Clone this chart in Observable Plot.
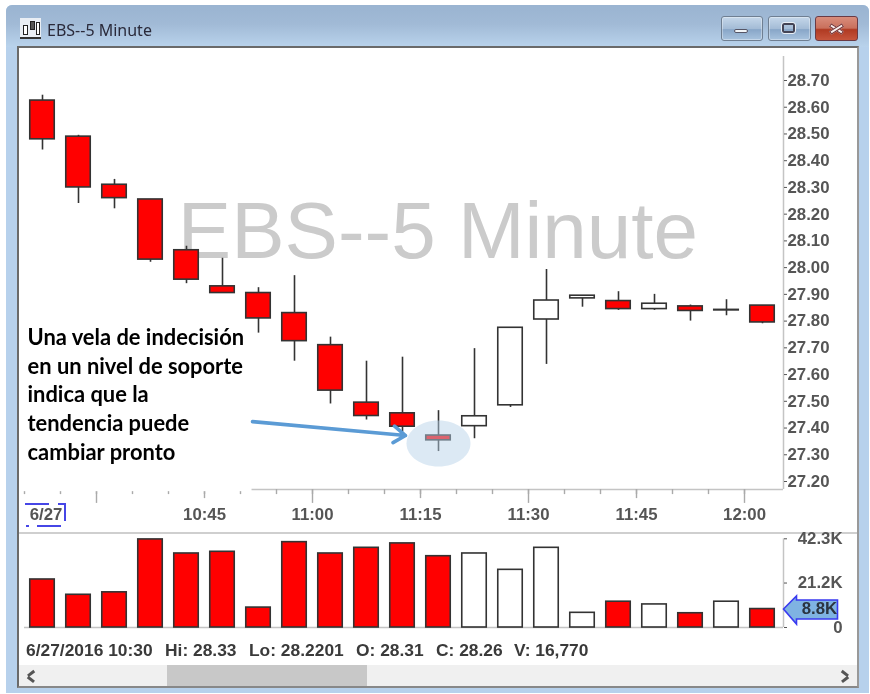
<!DOCTYPE html>
<html><head><meta charset="utf-8">
<script src="https://cdn.jsdelivr.net/npm/d3@7"></script>
<script src="https://cdn.jsdelivr.net/npm/@observablehq/plot@0.6"></script>
<style>
html,body{margin:0;padding:0;background:#fff;}
#page{position:relative;width:870px;height:694px;overflow:hidden;font-family:"Liberation Sans",Arial,sans-serif;filter:blur(.35px);}
#page>div{position:absolute;box-sizing:border-box;}
#page svg{position:absolute;left:0;background:transparent;overflow:visible;}
</style></head><body>
<div id="page"></div>
<script>
// ---- Data ----
const startTimes = ["10:20","10:25","10:30","10:35","10:40","10:45","10:50","10:55","11:00","11:05","11:10","11:15","11:20","11:25","11:30","11:35","11:40","11:45","11:50","11:55","12:00"];
const opens  = [28.625,28.49,28.31,28.255,28.065,27.93,27.905,27.83,27.71,27.495,27.455,27.372,27.407,27.485,27.806,27.885,27.875,27.845,27.855,27.84,27.858];
const highs  = [28.645,28.495,28.33,28.255,28.08,28.035,27.925,27.97,27.74,27.65,27.665,27.465,27.697,27.775,27.993,27.895,27.91,27.90,27.86,27.88,27.858];
const lows   = [28.44,28.24,28.2201,28.02,27.94,27.905,27.755,27.65,27.49,27.43,27.385,27.312,27.36,27.477,27.638,27.852,27.84,27.84,27.80,27.82,27.79];
const closes = [28.48,28.30,28.26,28.03,27.955,27.905,27.81,27.725,27.54,27.445,27.405,27.354,27.444,27.775,27.877,27.895,27.845,27.865,27.838,27.842,27.795];
const volumes = [22900,15600,16770,42000,35300,36100,9500,40700,35300,38000,40100,34000,35300,27500,38000,7000,12300,11000,6800,12300,8800];
const priceTicks = [28.7,28.6,28.5,28.4,28.3,28.2,28.1,28.0,27.9,27.8,27.7,27.6,27.5,27.4,27.3,27.2];
const volumeTicks = [0,21200,42300];
const volumeTickLabels = ["0","21.2K","42.3K"];
const timeLabels = ["10:45","11:00","11:15","11:30","11:45","12:00"];
const watermark = "EBS--5 Minute";
const windowTitle = "EBS--5 Minute";
const dateLabel = "6/27";
const note = "Una vela de indecisión\nen un nivel de soporte\nindica que la\ntendencia puede\ncambiar pronto";
const status = [["6/27/2016 10:30",26],["Hi: 28.33",165],["Lo: 28.2201",249],["O: 28.31",356],["C: 28.26",436],["V: 16,770",514]];

const t = s => { const [h,m] = s.split(":").map(Number); return new Date(Date.UTC(2016,5,27,h,m)); };
const shift = (d,min) => new Date(+d + min*60000);
const candles = startTimes.map((s,i)=>({t:t(s),open:opens[i],high:highs[i],low:lows[i],close:closes[i],volume:volumes[i]}));
const mid = d => shift(d.t,2.5), left = d => shift(d.t,0.8), right = d => shift(d.t,4.2);
const color = d => d.close >= d.open ? "#fff" : "#f00";
const xDomain = [t("10:20"), shift(t("12:05"),5/12)];
const xRange = [24,783];
const inkDark = "#333", axisInk = "#555", axisLine = "#c4c4c4";
const base = {fontFamily:'"Liberation Sans",Arial,sans-serif',fontWeight:"bold",fontSize:"16.8px",background:"transparent",color:axisInk};
const hhmm = d3.utcFormat("%H:%M");

// ---- Window frame ----
const page = document.getElementById("page");
function box(l,t,w,h,css=""){const d=document.createElement("div");d.style.cssText=`left:${l}px;top:${t}px;width:${w}px;height:${h}px;${css}`;page.appendChild(d);return d;}
box(6,5,863,688,"background:#b7d1ec;border-radius:6px 6px 0 0;");
box(6,5,863,42,"background:linear-gradient(#9ab4d1,#a1bad6 45%,#b9d3ec);border-radius:6px 6px 0 0;");
box(17,46,842,642,"background:#fff;border:2px solid #6a6a6a;border-bottom-color:#888;border-right-color:#999;");
// icon
box(20,18,21,21,"background:#e9eef4;border-bottom:2px solid #333;");
[[23,25,5,10],[30,21,5,9],[36,22,4,13]].forEach(([l,tp,w,h],i)=>box(l,tp,w,h,`border:1.4px solid #222;background:${i==1?"#555":"#fff"};`));
const ttl = box(47,18,160,24,'font:16px/24px "Noto Sans","Open Sans",sans-serif;color:#2a2a3a;');ttl.textContent=windowTitle;
// buttons
const btn="border:1px solid #6f7f92;border-radius:3px;box-shadow:inset 0 0 0 1px rgba(255,255,255,.35);";
box(721,16,42,25,btn+"background:linear-gradient(#c5d7ea,#a4bcd6 50%,#88a6c8 55%,#a8c3de);");
box(734,29,14,4,"background:#f2f5f8;border:1px solid #556;border-radius:2px;");
box(768,16,43,25,btn+"background:linear-gradient(#c5d7ea,#a4bcd6 50%,#88a6c8 55%,#a8c3de);");
box(782,23,13,10,"background:transparent;border:2px solid #445;outline:1px solid #e8eef4;border-radius:2px;");
box(815,16,43,25,"border:1px solid #6a3b45;border-radius:3px;background:linear-gradient(#d98d7c,#c9705c 48%,#b03a22 55%,#c6553c);");
box(829,27,15,3.6,"background:#f6eeee;transform:rotate(32deg);border:.5px solid #733;");
box(829,27,15,3.6,"background:#f6eeee;transform:rotate(-32deg);border:.5px solid #733;");
// separators, scrollbar
box(19,532,838,1.5,"background:#cfcfcf;");
box(19,665,838,21,"background:#f0f0f0;");
box(167,665,200,21,"background:#c8c8c8;");
const chevron=(x,rot)=>{box(x,672,8,2.6,`background:#555;transform:rotate(${rot}deg);`);box(x,678,8,2.6,`background:#555;transform:rotate(${-rot}deg);`);};
chevron(27,-38);chevron(841,38);
// blue proofing marks round the date
[[25,503,24,1.6],[58,503,7,1.6],[64,503,1.6,18],[37,525,24,1.6],[26,525,2.5,2]].forEach(([l,tp,w,h])=>box(l,tp,w,h,"background:#4646e6;"));
// status line
status.forEach(([s,l])=>{const d=box(l,639,200,22,`font:bold 17.4px/22px "Liberation Sans",Arial,sans-serif;color:#3a3a3a;white-space:nowrap;`);d.textContent=s;});

// ---- Price panel ----
const ellipse = {draw(c){const a=32,b=23,k=.5523;c.moveTo(-a,0);c.bezierCurveTo(-a,-k*b,-k*a,-b,0,-b);c.bezierCurveTo(k*a,-b,a,-k*b,a,0);c.bezierCurveTo(a,k*b,k*a,b,0,b);c.bezierCurveTo(-k*a,b,-a,k*b,-a,0);c.closePath();}};
const fiveMin = d3.utcMinute.every(5).range(t("10:20"),t("12:05"));
const thirty = [t("10:30"),t("11:00"),t("11:30"),t("12:00")];
const fifteen = [t("10:45"),t("11:15"),t("11:45")];
const dateTick = t("10:23");
const axisPrice = 27.17;
const tickRule = (ticks,drop) => Plot.ruleX(ticks,{y1:()=>axisPrice,y2:()=>axisPrice-drop,stroke:"#aaa",strokeWidth:1.4});
const priceChart = Plot.plot({
  width:870,height:694,marginTop:0,marginLeft:0,marginRight:87,marginBottom:205,
  style:base,
  x:{type:"utc",domain:xDomain,range:xRange,axis:null},
  y:{domain:[27.2,28.7],range:[481,80],axis:null},
  marks:[
    Plot.text([watermark],{x:()=>shift(t("10:41"),.3),y:()=>28.13,text:d=>d,textAnchor:"start",fontSize:80,fontWeight:"normal",fill:"#cbcbcb",lineAnchor:"middle"}),
    Plot.ruleY([axisPrice],{x1:()=>xDomain[0],x2:()=>xDomain[1],stroke:axisLine,strokeWidth:1.5}),
    Plot.ruleX([xDomain[1]],{y1:()=>axisPrice,y2:()=>28.79,stroke:axisLine,strokeWidth:1.5}),
    tickRule(fiveMin,.019),
    tickRule(fifteen,.034),
    tickRule(thirty,.052),
    Plot.axisX([dateTick,...timeLabels.map(t)],{anchor:"bottom",tickSize:0,tickPadding:19,label:null,tickFormat:d=>+d===+dateTick?dateLabel:hhmm(d),fill:"#555"}),
    Plot.axisY(priceTicks,{anchor:"right",tickSize:3,tickPadding:1,tickFormat:d=>d.toFixed(2),label:null,stroke:"#555",fill:"#555"}),
    // white backing of the note hides the axis line under it
    Plot.rect([0],{x1:()=>shift(t("10:20"),-.5),x2:()=>shift(t("10:51"),.6),y1:()=>27.162,y2:()=>27.715,fill:"#fff"}),
    Plot.ruleX(candles,{x:mid,y1:"low",y2:"high",stroke:inkDark,strokeWidth:1.6}),
    Plot.rect(candles,{x1:left,x2:right,y1:"open",y2:"close",fill:color,stroke:inkDark,strokeWidth:1.6}),
    Plot.dot([candles[11]],{x:mid,y:()=>27.342,r:1,symbol:ellipse,fill:"rgb(182,208,233)",fillOpacity:.48,stroke:"none"}),
    Plot.arrow([0],{x1:()=>shift(t("10:51"),.67),y1:()=>27.424,x2:()=>shift(t("11:12"),.92),y2:()=>27.372,stroke:"#5b9bd5",strokeWidth:3.6,headLength:6,headAngle:70}),
    Plot.text([note],{x:()=>shift(t("10:20"),.42),y:()=>27.787,text:d=>d,textAnchor:"start",lineAnchor:"top",lineHeight:1.31,fontFamily:"Lato",fontWeight:"bold",fontSize:21.9,fill:"#000"})
  ]
});
priceChart.style.top="0px";
page.appendChild(priceChart);

// ---- Volume panel ----
const last = candles[candles.length-1];
const callout = {draw(c){c.moveTo(0,0);c.lineTo(13,-13);c.lineTo(13,-9);c.lineTo(54,-9);c.lineTo(54,10);c.lineTo(13,10);c.lineTo(13,15);c.closePath();}};
const volChart = Plot.plot({
  width:870,height:120,marginTop:0,marginLeft:0,marginRight:87,marginBottom:23,
  style:base,
  x:{type:"utc",domain:xDomain,range:xRange,axis:null},
  y:{domain:[0,42300],range:[97,8.3],axis:null},
  marks:[
    Plot.ruleY([0],{x1:()=>xDomain[0],x2:()=>xDomain[1],stroke:axisLine,strokeWidth:1.5}),
    Plot.ruleX([xDomain[1]],{y1:()=>0,y2:()=>42300,stroke:axisLine,strokeWidth:1.5}),
    Plot.axisY(volumeTicks,{anchor:"right",tickSize:3,tickPadding:56,textAnchor:"end",label:null,tickFormat:d=>volumeTickLabels[volumeTicks.indexOf(d)],stroke:"#555",fill:"#555"}),
    Plot.rect(candles,{x1:left,x2:right,y1:()=>0,y2:"volume",fill:color,stroke:inkDark,strokeWidth:1.6}),
    Plot.dot([last],{x:()=>xDomain[1],y:"volume",r:1,symbol:callout,fill:"#7fb3e2",stroke:"#3a3af0",strokeWidth:1.6}),
    Plot.text(["8.8K"],{x:()=>xDomain[1],y:()=>last.volume,text:d=>d,dx:36,textAnchor:"middle",fontSize:16.8,fill:"#2b3440"})
  ]
});
volChart.style.top="530px";
page.appendChild(volChart);
</script>
</body></html>
